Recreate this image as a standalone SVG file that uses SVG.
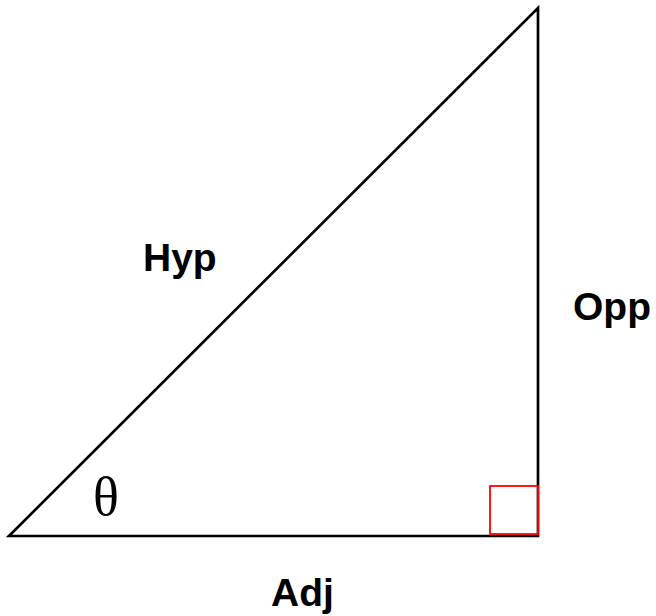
<svg xmlns="http://www.w3.org/2000/svg" width="656" height="616" viewBox="0 0 656 616">
<style>
.lbl{font-family:"Liberation Sans",Arial,sans-serif;font-weight:bold;font-size:39px;fill:#000}
.edge{fill:none;stroke:#000;stroke-width:2.7}
</style>
<rect width="656" height="616" fill="#fff"/>
<g id="connectors">
<path class="edge" d="M9,536 L538,536 L538,8 Z" stroke-linejoin="miter"/>
</g>
<g id="right-angle">
<rect x="490" y="486" width="48" height="48" fill="none" stroke="#f00" stroke-width="1.8"/>
</g>
<g id="hyp"><text class="lbl" x="143" y="271">Hyp</text></g>
<g id="opp"><text class="lbl" x="573" y="320">Opp</text></g>
<g id="adj"><text class="lbl" x="271" y="606">Adj</text></g>
<g id="theta"><text x="106" y="515" text-anchor="middle" font-family="Liberation Serif,'Times New Roman',serif" font-size="54">θ</text></g>
</svg>
